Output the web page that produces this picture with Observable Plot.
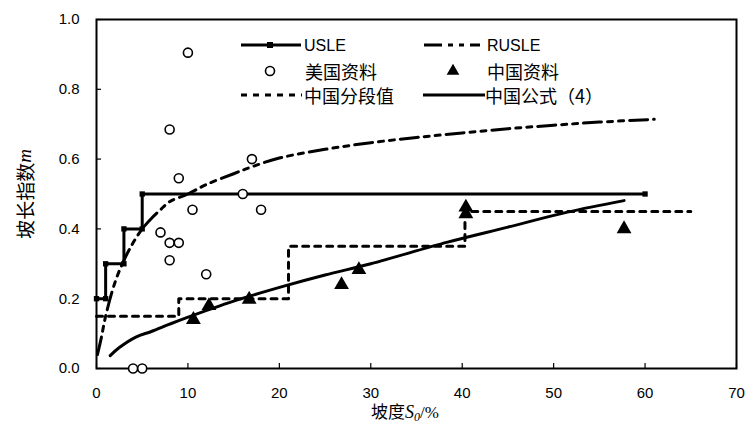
<!DOCTYPE html>
<html>
<head>
<meta charset="utf-8">
<script src="https://cdn.jsdelivr.net/npm/d3@7"></script>
<script src="https://cdn.jsdelivr.net/npm/@observablehq/plot@0.6"></script>
<style>
  html, body { margin: 0; padding: 0; background: #fff; }
  #chart { position: relative; width: 747px; height: 435px; }
</style>
</head>
<body>
<div id="chart"></div>
<script>
// ---- data ----
const xTicks = [0, 10, 20, 30, 40, 50, 60, 70];
const yTicks = [0, 0.2, 0.4, 0.6, 0.8, 1.0];

// USLE step values
const usleSlope = [0, 1, 1, 3, 3, 5, 5, 60];
const usleM     = [0.2, 0.2, 0.3, 0.3, 0.4, 0.4, 0.5, 0.5];

// RUSLE curve
const rusleSlope = [0.1, 0.5, 1, 2, 3, 4, 5, 6, 7, 8, 10, 12, 15, 17, 20, 25, 30, 35, 40, 45, 50, 55, 61];
const rusleM     = [0.04, 0.085, 0.15, 0.245, 0.31, 0.36, 0.40, 0.43, 0.455, 0.478, 0.50, 0.527, 0.558, 0.578, 0.603, 0.628, 0.647, 0.662, 0.675, 0.687, 0.697, 0.706, 0.714];

// 美国资料 (open circles)
const usSlope = [4, 5, 7, 8, 9, 8, 12, 10.5, 18, 16, 9, 17, 8, 10];
const usM     = [0, 0, 0.39, 0.36, 0.36, 0.31, 0.27, 0.455, 0.455, 0.50, 0.545, 0.60, 0.685, 0.905];

// 中国资料 (triangles)
const cnSlope = [10.6, 12.3, 16.7, 26.8, 28.7, 40.4, 40.4, 57.7];
const cnM     = [0.14, 0.18, 0.198, 0.24, 0.283, 0.462, 0.443, 0.40];

// 中国分段值 (dashed steps)
const segSlope = [0, 9, 9, 21, 21, 40.3, 40.3, 65];
const segM     = [0.15, 0.15, 0.2, 0.2, 0.35, 0.35, 0.45, 0.45];

// 中国公式（4）
const fSlope = [1.5, 2.5, 4.3, 6, 8, 9.8, 15, 20.5, 25, 30, 38.4, 45, 51.5, 57.7];
const fM     = [0.037, 0.06, 0.09, 0.106, 0.127, 0.145, 0.193, 0.236, 0.268, 0.30, 0.362, 0.405, 0.448, 0.481];

const zip = (xs, ys) => xs.map((x, i) => ({x, y: ys[i]}));
const usle = zip(usleSlope, usleM);
const rusle = zip(rusleSlope, rusleM);
const us = zip(usSlope, usM);
const cn = zip(cnSlope, cnM);
const seg = zip(segSlope, segM);
const formula = zip(fSlope, fM);

const W = 747, H = 435;
const mT = 19, mB = 67, mL = 96, mR = 11;
const plotW = W - mL - mR, plotH = H - mT - mB;
const rusleDash = "18,6,5,6,5,6";
const segDash = "6,6";

const chart = Plot.plot({
  width: W, height: H,
  marginTop: mT, marginBottom: mB, marginLeft: mL, marginRight: mR,
  x: {domain: [0, 70]},
  y: {domain: [0, 1]},
  style: {fontFamily: "'Liberation Sans', Arial, sans-serif", fontSize: "15px", color: "#000", background: "#fff", overflow: "visible"},
  marks: [
    Plot.ruleY(yTicks, {stroke: "#000", strokeWidth: 1.2, insetRight: plotW - 5}),
    Plot.ruleX(xTicks, {stroke: "#000", strokeWidth: 1.2, insetTop: plotH - 5}),
    Plot.axisX(xTicks, {tickSize: 0, tickPadding: 19, label: null, tickFormat: d => String(d)}),
    Plot.axisY(yTicks, {tickSize: 0, tickPadding: 17, label: null, tickFormat: d => d.toFixed(1)}),
    Plot.line(seg, {x: "x", y: "y", stroke: "#000", strokeWidth: 3, strokeDasharray: segDash}),
    Plot.line(rusle, {x: "x", y: "y", stroke: "#000", strokeWidth: 3, strokeDasharray: rusleDash, curve: "catmull-rom"}),
    Plot.line(formula, {x: "x", y: "y", stroke: "#000", strokeWidth: 3, curve: "catmull-rom"}),
    Plot.line(usle, {x: "x", y: "y", stroke: "#000", strokeWidth: 3}),
    Plot.dot(usle, {x: "x", y: "y", symbol: "square", fill: "#000", r: 3}),
    Plot.frame({stroke: "#000", strokeWidth: 2}),
    Plot.dot(us, {x: "x", y: "y", symbol: "circle", fill: "#fff", stroke: "#000", strokeWidth: 1.6, r: 4.5}),
    Plot.dot(cn, {x: "x", y: "y", symbol: "triangle", fill: "#000", r: 5.5})
  ]
});
document.getElementById("chart").appendChild(chart);

// ---- titles and legend (text + samples) ----
const svg = d3.select(chart);
const cjk = "'Noto Sans CJK SC', 'Noto Sans', sans-serif";
const serif = "'Liberation Serif', 'DejaVu Serif', serif";

// y-axis label
const yl = svg.append("text")
  .attr("transform", "translate(24,194) rotate(-90)")
  .attr("text-anchor", "middle").attr("dominant-baseline", "central")
  .attr("fill", "#000");
yl.append("tspan").attr("font-family", cjk).attr("font-size", 19).text("坡长指数");
yl.append("tspan").attr("font-family", serif).attr("font-style", "italic").attr("font-size", 19).text("m");

// x-axis label
const xl = svg.append("text")
  .attr("x", 405).attr("y", 418)
  .attr("text-anchor", "middle").attr("fill", "#000");
xl.append("tspan").attr("font-family", cjk).attr("font-size", 17).text("坡度");
xl.append("tspan").attr("font-family", serif).attr("font-style", "italic").attr("font-size", 18).text("S");
xl.append("tspan").attr("font-family", serif).attr("font-style", "italic").attr("font-size", 12).attr("dy", 3).text("0");
xl.append("tspan").attr("font-family", serif).attr("font-size", 17).attr("dy", -3).text("/%");

// legend
const lg = svg.append("g").attr("text-anchor", "start");
function sampleLine(x1, x2, y, dash) {
  lg.append("line").attr("x1", x1).attr("x2", x2).attr("y1", y).attr("y2", y)
    .attr("stroke", "#000").attr("stroke-width", 3).attr("stroke-dasharray", dash || null);
}
function label(x, y, txt, latin) {
  lg.append("text").attr("x", x).attr("y", y).attr("dominant-baseline", "central")
    .attr("text-anchor", "start")
    .attr("font-family", latin ? "'Liberation Sans', Arial, sans-serif" : cjk)
    .attr("font-size", latin ? 16 : 18).attr("fill", "#000").text(txt);
}
// row 1
sampleLine(241, 301, 45);
lg.append("rect").attr("x", 267).attr("y", 42).attr("width", 6).attr("height", 6).attr("fill", "#000");
label(304, 45, "USLE", true);
sampleLine(424, 480, 45, rusleDash);
label(487, 45, "RUSLE", true);
// row 2
lg.append("circle").attr("cx", 270).attr("cy", 71).attr("r", 4.5).attr("fill", "#fff").attr("stroke", "#000").attr("stroke-width", 1.6);
label(305, 71, "美国资料");
lg.append("path").attr("d", d3.symbol(d3.symbolTriangle, 70)()).attr("transform", "translate(453,71)").attr("fill", "#000");
label(487, 71, "中国资料");
// row 3
sampleLine(241, 302, 95, segDash);
label(304, 95, "中国分段值");
sampleLine(423, 485, 95);
label(485, 95, "中国公式（4）");
</script>
</body>
</html>
